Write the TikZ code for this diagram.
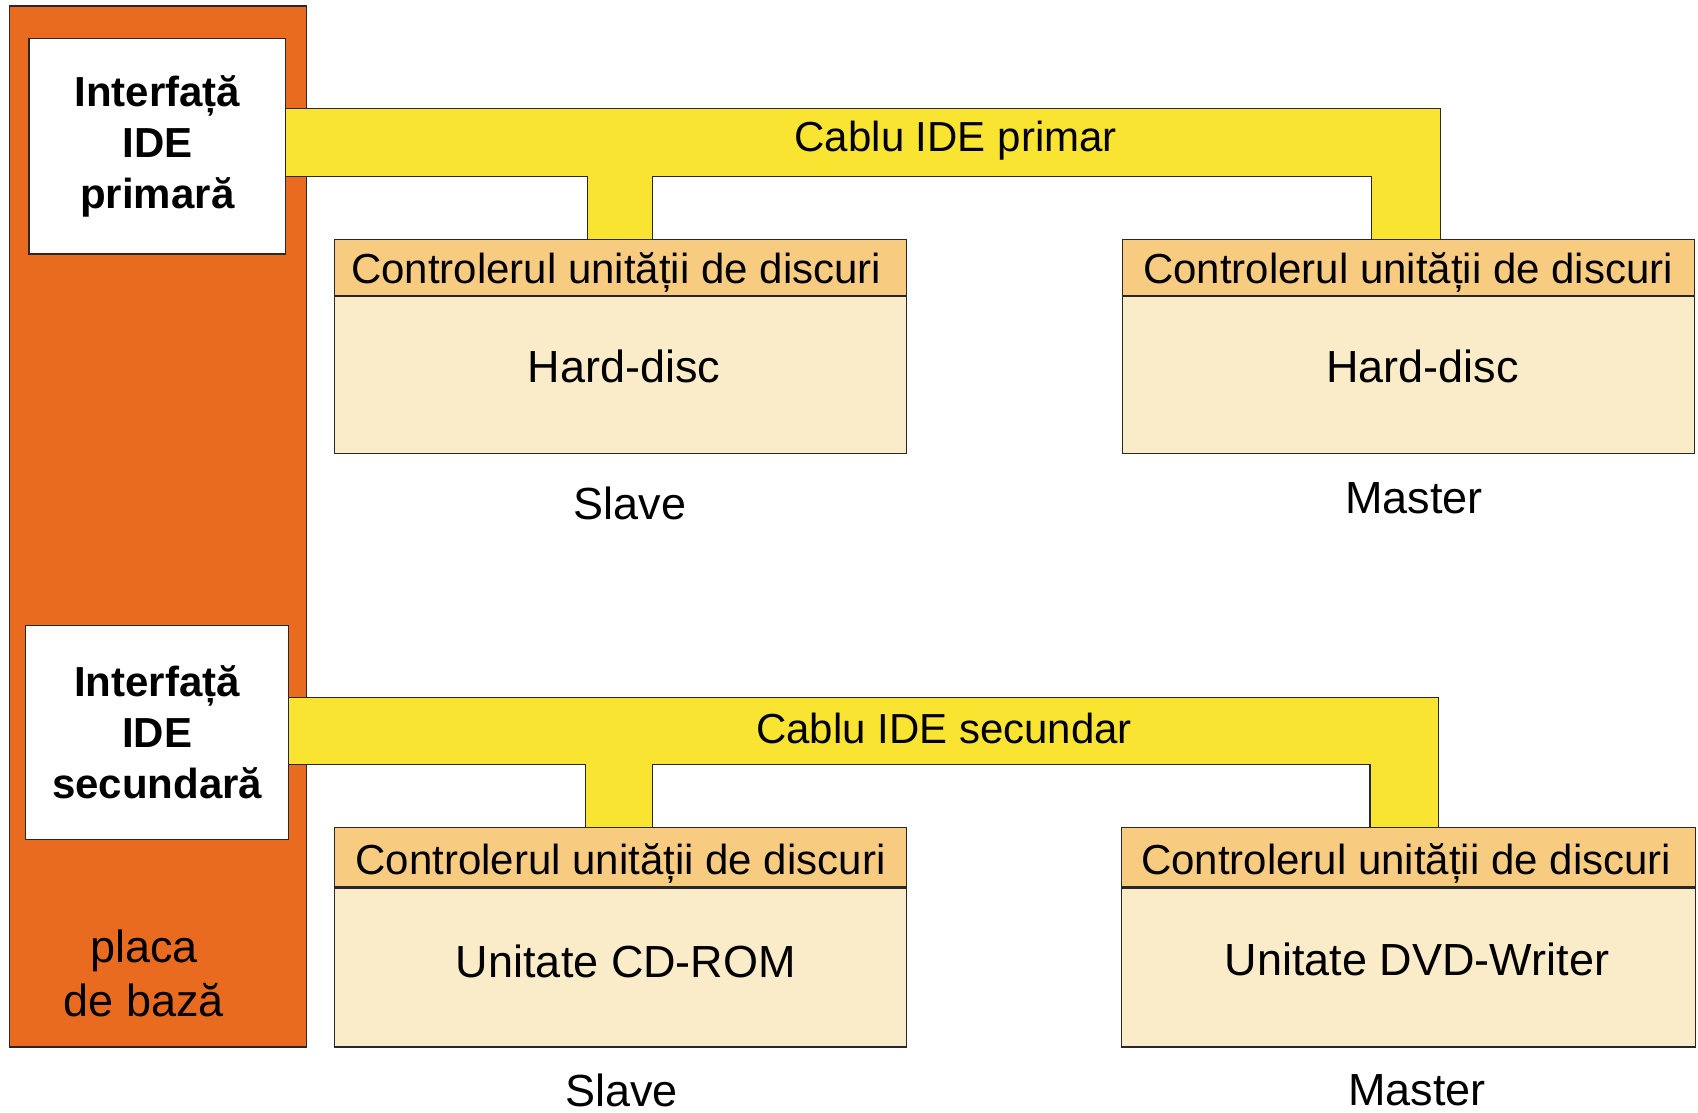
\documentclass[tikz,border=0pt]{standalone}
\usepackage{fontspec}
\setmainfont{Liberation Sans}
\definecolor{boardc}{RGB}{233,107,32}
\definecolor{cablec}{RGB}{249,228,50}
\definecolor{hdrc}{RGB}{248,204,128}
\definecolor{bodyc}{RGB}{251,236,201}
\definecolor{edgec}{RGB}{40,40,40}
\begin{document}
\begin{tikzpicture}[x=1pt,y=-1pt,
  box/.style={draw=edgec, line width=1.3pt, inner sep=0pt, anchor=center},
  boardbox/.style={box, fill=boardc},
  iface/.style={box, fill=white, font=\fontsize{42}{51}\selectfont\bfseries, align=center},
  hdr/.style={box, fill=hdrc},
  drive/.style={box, fill=bodyc},
  cable/.style={draw=edgec, fill=cablec, line width=1.3pt},
  txt/.style={font=\fontsize{45}{54}\selectfont, inner sep=0pt, align=center},
  ctxt/.style={font=\fontsize{42}{50}\selectfont, inner sep=0pt, anchor=base}]
\useasboundingbox (0,0) rectangle (1698,1113);
\fill[white] (0,0) rectangle (1698,1113);
% motherboard
\node[boardbox, minimum width=297.3pt, minimum height=1041pt] (board) at (158,526.5) {};
% cables
\draw[cable] (285.7,108.5) -- (1440.3,108.5) -- (1440.3,239.3) -- (1371.7,239.3) -- (1371.7,176.5) -- (652.6,176.5) -- (652.6,239.3) -- (587.5,239.3) -- (587.5,176.5) -- (285.7,176.5) -- cycle;
\draw[cable] (288.8,697.3) -- (1438.7,697.3) -- (1438.7,827.7) -- (1370,827.7) -- (1370,764.3) -- (652.7,764.3) -- (652.7,827.7) -- (585.7,827.7) -- (585.7,764.3) -- (288.8,764.3) -- cycle;
% interfaces
\node[iface, minimum width=256.7pt, minimum height=215.7pt] (if1) at (157.35,146.15) {Interfață\\IDE\\primară};
\node[iface, minimum width=263.4pt, minimum height=213.4pt] (if2) at (157.1,732.5) {Interfață\\IDE\\secundară};
\node[txt] (placa) at (144,973.6) {placa\\de bază};
% drives primary
\node[hdr, minimum width=571.9pt, minimum height=56.7pt] (s1h) at (620.75,267.65) {};
\node[drive, minimum width=571.9pt, minimum height=157.3pt] (s1b) at (620.75,374.65) {};
\node[hdr, minimum width=572.1pt, minimum height=56.7pt] (m1h) at (1408.45,267.65) {};
\node[drive, minimum width=572.1pt, minimum height=157.3pt] (m1b) at (1408.45,374.65) {};
% drives secondary
\node[hdr, minimum width=571.9pt, minimum height=59.3pt] (s2h) at (620.75,857.35) {};
\node[drive, minimum width=571.9pt, minimum height=160pt] (s2b) at (620.75,967) {};
\node[hdr, minimum width=574pt, minimum height=59.3pt] (m2h) at (1408.7,857.35) {};
\node[drive, minimum width=574pt, minimum height=160pt] (m2b) at (1408.7,967) {};
\draw[edgec, line width=2.8pt] (s2h.south west) -- (s2h.south east);
\draw[edgec, line width=2.8pt] (m2h.south west) -- (m2h.south east);
% header texts
\node[ctxt] (s1t) at (616.2,283.3) {Controlerul unității de discuri};
\node[ctxt] (m1t) at (1408,283.3) {Controlerul unității de discuri};
\node[ctxt] (s2t) at (620.5,874.3) {Controlerul unității de discuri};
\node[ctxt] (m2t) at (1406.2,874.3) {Controlerul unității de discuri};
% texts
\node[ctxt] (cab1) at (955.7,151.7) {Cablu IDE primar};
\node[ctxt, anchor=center] (cab2) at (944,728) {Cablu IDE secundar};
\node[txt] (hd1) at (624,366.7) {Hard-disc};
\node[txt] (hd2) at (1422.5,366.7) {Hard-disc};
\node[txt] (cd) at (626,961.5) {Unitate CD-ROM};
\node[txt] (dvd) at (1417,959) {Unitate DVD-Writer};
\node[txt] (sl1) at (630,503.6) {Slave};
\node[txt] (ms1) at (1414,498) {Master};
\node[txt, anchor=base] (sl2) at (621.6,1106.5) {Slave};
\node[txt] (ms2) at (1417,1090) {Master};
\end{tikzpicture}
\end{document}
